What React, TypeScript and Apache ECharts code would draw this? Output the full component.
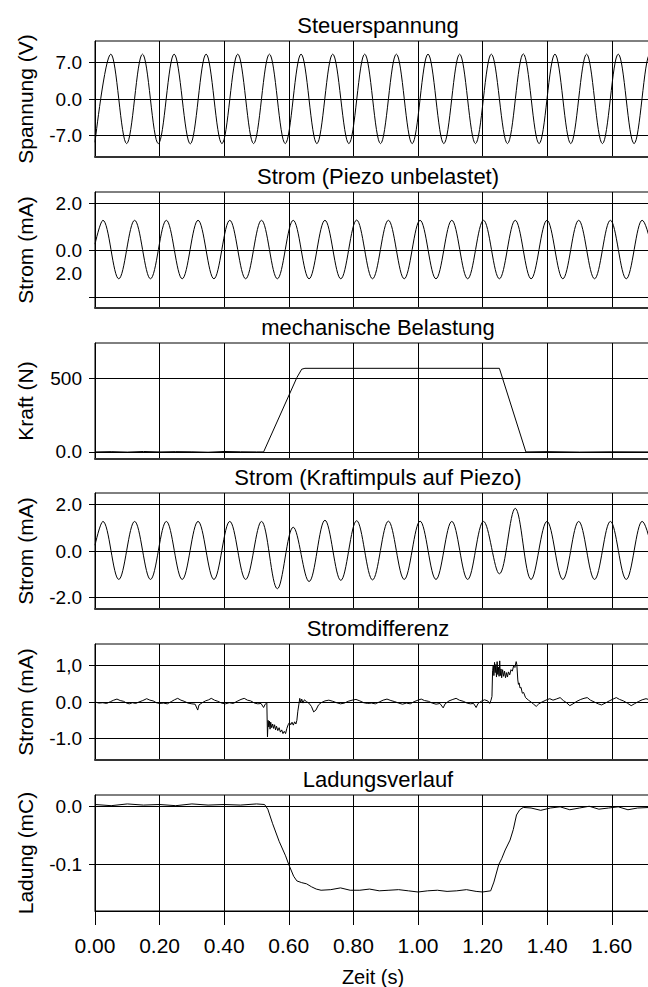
import React, { useEffect, useRef } from "react";
import * as echarts from "echarts";

const FONT = '"Liberation Sans", Arial, Helvetica, sans-serif';

// ---- texts ----
const panelTitles = [
  "Steuerspannung",
  "Strom (Piezo unbelastet)",
  "mechanische Belastung",
  "Strom (Kraftimpuls auf Piezo)",
  "Stromdifferenz",
  "Ladungsverlauf",
];
const yAxisNames = ["Spannung (V)", "Strom (mA)", "Kraft (N)", "Strom (mA)", "Strom (mA)", "Ladung (mC)"];
const xAxisName = "Zeit (s)";

// ---- axes ----
const timeMin = 0;
const timeMax = 1.7214;
const timeStep = 0.2;
const yMins = [-11.12, -2.48, -48, -2.49, -1.58, -0.1796];
const yMaxs = [11.12, 2.48, 740, 2.49, 1.58, 0.0193];
const yGridValues = [
  [-7, 0, 7],
  [-2, 0, 2],
  [0, 500],
  [-2, 0, 2],
  [-1, 0, 1],
  [-0.1, 0],
];
const yLabelValues = [
  [-7, 0, 7],
  [-1, 0, 2],
  [0, 500],
  [-2, 0, 2],
  [-1, 0, 1],
  [-0.1, 0],
];
const yLabelTexts = [
  ["-7.0", "0.0", "7.0"],
  ["2.0", "0.0", "2.0"],
  ["0.0", "500"],
  ["-2.0", "0.0", "2.0"],
  ["-1.0", "0.0", "1,0"],
  ["-0.1", "0.0"],
];

// ---- data: Steuerspannung (extrema) ----
const voltageTimes = [
  0.0, 0.049, 0.098, 0.147, 0.196, 0.245, 0.295, 0.344, 0.393, 0.442, 0.491, 0.54, 0.589, 0.638, 0.687, 0.736,
  0.786, 0.835, 0.884, 0.933, 0.982, 1.031, 1.08, 1.129, 1.178, 1.227, 1.277, 1.326, 1.375, 1.424, 1.473, 1.522,
  1.571, 1.62, 1.669, 1.718, 1.767,
];
const voltageValues = [
  -8.3, 8.6, -8.55, 8.6, -8.55, 8.6, -8.6, 8.6, -8.55, 8.6, -8.55, 8.6, -8.55, 8.6, -8.55, 8.6, -8.55, 8.6,
  -8.55, 8.6, -8.55, 8.6, -8.55, 8.6, -8.55, 8.6, -8.55, 8.65, -8.55, 8.6, -8.55, 8.6, -8.55, 8.6, -8.55, 8.6,
  -8.55,
];

// ---- data: Strom (extrema) ----
const currentTimes = [
  0.0, 0.0245, 0.0736, 0.1227, 0.1718, 0.2209, 0.27, 0.3191, 0.3682, 0.4173, 0.4664, 0.5155, 0.5646, 0.6137,
  0.6628, 0.7119, 0.761, 0.8101, 0.8592, 0.9083, 0.9574, 1.0065, 1.0556, 1.1047, 1.1538, 1.2029, 1.252, 1.3011,
  1.3502, 1.3993, 1.4484, 1.4975, 1.5466, 1.5957, 1.6448, 1.6939, 1.743,
];
const unloadedValues = [
  0.25, 1.27, -1.23, 1.27, -1.23, 1.27, -1.23, 1.27, -1.23, 1.27, -1.23, 1.27, -1.23, 1.27, -1.23, 1.27, -1.23,
  1.28, -1.23, 1.27, -1.23, 1.27, -1.23, 1.27, -1.23, 1.27, -1.23, 1.27, -1.23, 1.27, -1.23, 1.27, -1.23, 1.27,
  -1.23, 1.27, -1.23,
];
const loadedValues = [
  0.25, 1.27, -1.22, 1.27, -1.22, 1.27, -1.22, 1.27, -1.22, 1.27, -1.22, 1.27, -1.62, 1.02, -1.31, 1.32, -1.26,
  1.3, -1.24, 1.28, -1.22, 1.28, -1.22, 1.27, -1.22, 1.27, -0.98, 1.83, -1.22, 1.27, -1.22, 1.27, -1.22, 1.27,
  -1.22, 1.27, -1.22,
];

// ---- data: mechanische Belastung ----
const forceTimes = [
  0, 0.05, 0.1, 0.15, 0.2, 0.25, 0.3, 0.35, 0.4, 0.45, 0.5, 0.522, 0.625, 0.64, 0.65, 0.8, 1.0, 1.2, 1.252, 1.334,
  1.4, 1.5, 1.6, 1.72,
];
const forceValues = [0, 2, -1, 3, 0, 2, 1, -2, 3, 1, 0, 0, 505, 562, 568, 568, 568, 568, 568, 0, 2, -1, 1, 0];

// ---- data: Stromdifferenz, [time (s), current (mA)] ----
const diffPoints: [number, number][] = [
  [0.0, 0.0], [0.012, -0.03], [0.024, -0.02], [0.036, -0.04], [0.048, 0.01], [0.058, 0.05], [0.068, 0.08],
  [0.078, 0.04], [0.088, 0.02], [0.098, -0.03], [0.106, -0.05], [0.116, -0.02], [0.126, -0.04], [0.136, 0.0],
  [0.148, 0.04], [0.16, 0.09], [0.17, 0.05], [0.18, 0.03], [0.19, -0.02], [0.2, -0.04], [0.212, -0.03],
  [0.224, -0.05], [0.236, 0.01], [0.246, 0.06], [0.256, 0.1], [0.266, 0.05], [0.276, 0.02], [0.288, -0.03],
  [0.3, -0.05], [0.31, -0.06], [0.318, -0.22], [0.322, -0.08], [0.332, -0.02], [0.342, 0.03], [0.352, 0.06],
  [0.36, 0.1], [0.37, 0.05], [0.38, 0.02], [0.392, -0.03], [0.404, -0.05], [0.416, -0.02], [0.428, -0.04],
  [0.44, 0.02], [0.452, 0.07], [0.462, 0.1], [0.472, 0.05], [0.482, 0.03], [0.494, -0.03], [0.504, -0.05],
  [0.514, -0.04], [0.522, -0.15], [0.527, -0.06], [0.532, -0.02],
  [0.534, -0.95], [0.536, -0.5], [0.538, -0.68], [0.54, -0.52], [0.542, -0.74], [0.544, -0.55], [0.547, -0.7],
  [0.55, -0.6], [0.553, -0.72], [0.556, -0.62], [0.559, -0.76], [0.562, -0.66], [0.566, -0.78], [0.57, -0.7],
  [0.574, -0.82], [0.578, -0.76], [0.582, -0.86], [0.586, -0.8], [0.59, -0.86], [0.594, -0.72], [0.598, -0.62],
  [0.602, -0.56], [0.606, -0.62], [0.61, -0.55], [0.614, -0.63], [0.618, -0.54], [0.622, -0.6], [0.625, -0.5],
  [0.628, -0.25], [0.631, -0.08], [0.634, 0.1], [0.637, -0.02], [0.64, 0.08], [0.644, -0.03], [0.648, 0.06],
  [0.655, 0.01], [0.662, -0.03], [0.67, -0.12], [0.677, -0.27], [0.684, -0.22], [0.692, -0.08], [0.7, -0.02],
  [0.712, 0.03], [0.724, 0.05], [0.736, 0.02], [0.748, -0.02], [0.76, -0.05], [0.772, -0.03], [0.784, 0.02],
  [0.796, 0.05], [0.808, 0.07], [0.82, 0.03], [0.832, -0.02], [0.844, -0.04], [0.856, -0.03], [0.868, -0.05],
  [0.88, 0.0], [0.892, 0.05], [0.904, 0.08], [0.916, 0.04], [0.928, 0.01], [0.94, -0.03], [0.952, -0.06],
  [0.964, -0.03], [0.976, -0.05], [0.988, 0.01], [1.0, 0.05], [1.01, 0.08], [1.02, 0.04], [1.032, 0.02],
  [1.044, -0.03], [1.056, -0.06], [1.068, -0.04], [1.078, -0.16], [1.084, -0.05], [1.096, 0.03], [1.108, 0.07],
  [1.118, 0.1], [1.128, 0.05], [1.14, 0.02], [1.152, -0.03], [1.162, -0.05], [1.172, -0.04], [1.18, -0.15],
  [1.186, -0.04], [1.196, 0.02], [1.206, 0.06], [1.216, 0.03], [1.222, -0.04], [1.226, 0.05],
  [1.229, 0.15], [1.231, 0.85], [1.233, 1.0], [1.235, 0.72], [1.237, 1.08], [1.239, 0.8], [1.241, 1.02],
  [1.243, 0.68], [1.245, 1.1], [1.247, 0.75], [1.249, 0.95], [1.251, 0.7], [1.253, 1.12], [1.255, 0.72],
  [1.257, 0.9], [1.259, 0.66], [1.262, 0.88], [1.265, 0.7], [1.268, 0.84], [1.271, 0.66], [1.274, 0.8],
  [1.277, 0.68], [1.28, 0.82], [1.284, 0.74], [1.288, 0.88], [1.292, 0.84], [1.296, 0.98], [1.3, 0.94],
  [1.304, 1.1], [1.306, 1.02], [1.309, 0.6], [1.311, 0.48], [1.313, 0.52], [1.316, 0.38], [1.319, 0.4],
  [1.323, 0.24], [1.327, 0.26], [1.333, 0.12],
  [1.342, 0.05], [1.35, 0.0], [1.358, -0.06], [1.366, -0.12], [1.374, -0.05], [1.384, 0.0], [1.396, 0.05],
  [1.408, 0.09], [1.418, 0.05], [1.428, 0.08], [1.44, 0.12], [1.45, 0.04], [1.46, -0.02], [1.47, -0.1],
  [1.48, -0.05], [1.492, 0.02], [1.504, 0.07], [1.514, 0.1], [1.524, 0.12], [1.534, 0.05], [1.546, 0.0],
  [1.558, -0.05], [1.568, -0.08], [1.58, -0.03], [1.592, 0.03], [1.604, 0.08], [1.614, 0.12], [1.624, 0.07],
  [1.636, 0.03], [1.648, -0.03], [1.66, -0.1], [1.67, -0.05], [1.682, 0.01], [1.694, 0.06], [1.706, 0.09],
  [1.72, 0.05],
];

// ---- data: Ladungsverlauf ----
const chargeTimes = [
  0, 0.05, 0.1, 0.15, 0.2, 0.25, 0.3, 0.35, 0.4, 0.45, 0.5, 0.525, 0.535, 0.55, 0.57, 0.59, 0.6, 0.615, 0.625,
  0.64, 0.655, 0.67, 0.685, 0.7, 0.73, 0.76, 0.79, 0.82, 0.85, 0.88, 0.91, 0.94, 0.97, 1.0, 1.03, 1.06, 1.09,
  1.12, 1.15, 1.18, 1.2, 1.225, 1.235, 1.25, 1.259, 1.27, 1.285, 1.295, 1.305, 1.315, 1.326, 1.35, 1.38, 1.41,
  1.44, 1.47, 1.5, 1.53, 1.56, 1.59, 1.62, 1.65, 1.68, 1.72,
];
const chargeValues = [
  0.003, 0.001, 0.004, 0.002, 0.003, 0.001, 0.004, 0.002, 0.003, 0.002, 0.004, 0.003, -0.005, -0.03, -0.06,
  -0.085, -0.1, -0.12, -0.128, -0.131, -0.133, -0.138, -0.142, -0.144, -0.143, -0.14, -0.144, -0.144, -0.142,
  -0.145, -0.144, -0.143, -0.145, -0.147, -0.145, -0.144, -0.146, -0.145, -0.143, -0.146, -0.147, -0.145, -0.13,
  -0.1, -0.09, -0.075, -0.058, -0.04, -0.015, -0.006, -0.002, -0.003, -0.007, -0.003, -0.001, -0.006, -0.003,
  0.0, -0.005, -0.003, -0.001, -0.006, -0.003, -0.002,
];

const zip = (ts: number[], vs: number[]) => ts.map((t, j) => [t, vs[j]]);
const seriesData = [
  zip(voltageTimes, voltageValues),
  zip(currentTimes, unloadedValues),
  zip(forceTimes, forceValues),
  zip(currentTimes, loadedValues),
  diffPoints,
  zip(chargeTimes, chargeValues),
];
const seriesSmooth: (number | false)[] = [0.36, 0.36, false, 0.36, false, false];

// ---- layout ----
const GRID_LEFT = 95;
const GRID_RIGHT = -3;
const GRID_TOPS = [41, 192, 343, 493, 644, 795];
const GRID_H = 116;
const TITLE_X = 378;

function buildOption() {
  const n = panelTitles.length;
  const grid: any[] = [];
  const xAxis: any[] = [];
  const yAxis: any[] = [];
  const series: any[] = [];
  const title: any[] = [];
  for (let i = 0; i < n; i++) {
    const last = i === n - 1;
    grid.push({
      left: GRID_LEFT,
      right: GRID_RIGHT,
      top: GRID_TOPS[i],
      height: GRID_H,
      show: true,
      borderColor: "#000",
      borderWidth: 1,
      backgroundColor: "transparent",
      containLabel: false,
      outerBoundsMode: "none",
    });
    title.push({
      text: panelTitles[i],
      left: TITLE_X,
      top: GRID_TOPS[i] - 27,
      textAlign: "center",
      padding: 0,
      textStyle: { fontFamily: FONT, fontSize: 22, fontWeight: "normal", color: "#000" },
    });
    xAxis.push({
      gridIndex: i,
      type: "value",
      min: timeMin,
      max: timeMax,
      interval: timeStep,
      name: last ? xAxisName : "",
      nameLocation: "middle",
      nameGap: 56,
      nameMoveOverlap: false,
      nameTextStyle: { fontFamily: FONT, fontSize: 20, color: "#000" },
      axisLine: { show: true, onZero: false, lineStyle: { color: last ? "#000" : "#333", width: last ? 1 : 2 } },
      axisTick: { show: last, inside: false, length: 14, lineStyle: { color: "#000", width: 1 } },
      axisLabel: {
        show: last,
        margin: 24,
        fontFamily: FONT,
        fontSize: 21,
        color: "#000",
        formatter: (v: number) => {
          const k = Math.round(v / timeStep);
          return Math.abs(v - k * timeStep) < 1e-6 ? (k * timeStep).toFixed(2) : "";
        },
      },
      splitLine: { show: true, lineStyle: { color: "#000", width: 1 } },
    });
    const labVals = yLabelValues[i];
    const labTxt = yLabelTexts[i];
    yAxis.push({
      gridIndex: i,
      type: "value",
      min: yMins[i],
      max: yMaxs[i],
      name: yAxisNames[i],
      nameLocation: "middle",
      nameGap: 59,
      nameRotate: 90,
      nameMoveOverlap: false,
      nameTextStyle: { fontFamily: FONT, fontSize: 21, color: "#000" },
      axisLine: { show: true, onZero: false, lineStyle: { color: "#000", width: 1 } },
      axisTick: { show: true, inside: false, length: 6, customValues: yGridValues[i], lineStyle: { color: "#000" } },
      axisLabel: {
        show: true,
        customValues: labVals,
        margin: 13,
        fontFamily: FONT,
        fontSize: 19,
        color: "#000",
        formatter: (v: number) => {
          for (let k = 0; k < labVals.length; k++) {
            if (Math.abs(labVals[k] - v) < 1e-9) return labTxt[k];
          }
          return "";
        },
      },
      splitLine: { show: true, lineStyle: { color: "#000", width: 1 } },
    });
    series.push({
      type: "line",
      xAxisIndex: i,
      yAxisIndex: i,
      data: seriesData[i],
      showSymbol: false,
      symbol: "none",
      smooth: seriesSmooth[i],
      clip: true,
      silent: true,
      lineStyle: { color: "#000", width: 1 },
    });
  }
  return {
    animation: false,
    backgroundColor: "#fff",
    textStyle: { fontFamily: FONT },
    title,
    grid,
    xAxis,
    yAxis,
    series,
  };
}

export default function App() {
  const ref = useRef<HTMLDivElement>(null);
  useEffect(() => {
    if (!ref.current) return;
    const chart = echarts.init(ref.current, null, { renderer: "svg" });
    chart.setOption(buildOption() as any);
    return () => chart.dispose();
  }, []);
  return (
    <div
      ref={ref}
      style={{ position: "absolute", left: 0, top: 0, width: 648, height: 987, background: "#fff" }}
    />
  );
}
